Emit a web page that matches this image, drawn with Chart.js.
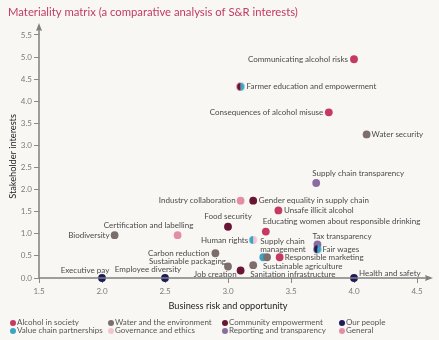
<!DOCTYPE html>
<html><head><meta charset="utf-8">
<script src="https://cdn.jsdelivr.net/npm/chart.js@4/dist/chart.umd.min.js"></script>
<style>
html,body{margin:0;padding:0;background:#f8f7f4;}
#wrap{position:relative;width:439px;height:340px;overflow:hidden;background:#f8f7f4;font-family:Lato,"Open Sans",sans-serif;}
#c{position:absolute;left:0;top:0;}
.lg{position:absolute;font-size:8px;color:#555;white-space:nowrap;line-height:9px;}
.lg i{position:absolute;left:-7px;top:2px;width:6px;height:6px;border-radius:50%;}
</style></head>
<body><div id="wrap"><canvas id="c" width="439" height="318"></canvas><div id="legend"></div></div>
<script>
// ---- data ----
const TITLE = 'Materiality matrix (a comparative analysis of S&R interests)';
const xTitle = 'Business risk and opportunity';
const yTitle = 'Stakeholder interests';
const categories = ['Alcohol in society','Water and the environment','Community empowerment','Our people',
  'Value chain partnerships','Governance and ethics','Reporting and transparency','General'];
const categoryColors = ['#c63a62','#7b6e6b','#6a1533','#1e1b57','#3aa5c5','#f3c5d1','#8b6ca0','#e48ea6'];
const topics = ['Communicating alcohol risks','Farmer education and empowerment','Consequences of alcohol misuse',
  'Water security','Supply chain transparency','Industry collaboration','Gender equality in supply chain',
  'Unsafe illicit alcohol','Food security','Educating women about responsible drinking','Human rights',
  'Certification and labelling','Biodiversity','Carbon reduction','Sustainable packaging','Job creation',
  'Sanitation infrastructure','Supply chain\nmanagement','Sustainable agriculture','Responsible marketing',
  'Tax transparency','Fair wages','Health and safety','Executive pay','Employee diversity'];
const businessRisk = [4.0,3.1,3.8,4.1,3.7,3.1,3.2,3.4,3.0,3.3,3.2,2.6,2.1,2.9,3.0,3.1,3.2,3.28,3.31,3.41,3.71,3.71,4.0,2.0,2.5];
const stakeholderInterest = [4.95,4.33,3.75,3.25,2.15,1.75,1.75,1.53,1.16,1.05,0.86,0.97,0.97,0.56,0.26,0.17,0.29,0.47,0.47,0.47,0.76,0.65,0,0,0];
const primaryCategory = [0,2,0,1,6,7,2,0,2,0,4,7,1,1,1,2,1,4,1,0,6,3,3,3,3];
const secondaryCategory = [null,4,null,null,null,null,null,null,null,null,5,null,null,null,null,null,null,null,null,null,null,4,null,null,null];
const xTicks = [1.5,2.0,2.5,3.0,3.5,4.0,4.5];
const yTicks = [0,0.5,1.0,1.5,2.0,2.5,3.0,3.5,4.0,4.5,5.0,5.5];

// ---- label placement (style) ----
const labelPlace = {
 0:[-6,0,'right'],1:[6,0,'left'],2:[-5.5,0,'right'],3:[5,0,'left'],4:[-4,-10,'left'],5:[-5,0,'right'],
 6:[5.5,0,'left'],7:[5.5,0,'left'],8:[0,-10,'center'],9:[-3,-10,'left'],10:[-5,0,'right'],11:[-29,-10,'center'],
 12:[-5,0,'right'],13:[-6,0,'right'],14:[-2,-5,'right'],15:[-4,3.5,'right'],16:[-3,9.5,'left'],17:[-3,-16,'left'],
 18:[-4,9,'left'],19:[5,0,'left'],20:[-5,-7.5,'left'],21:[5,0,'left'],22:[5,-5,'left'],23:[-17,-8,'center'],24:[-17,-9,'center']
};
const R = 3.9;
function halfDot(color, side){
  const c = document.createElement('canvas');
  const s = Math.ceil(R*2)+2; c.width = s; c.height = s;
  const g = c.getContext('2d');
  g.fillStyle = color; g.beginPath();
  if (side==='left') g.arc(s/2,s/2,R,Math.PI/2,Math.PI*1.5); else g.arc(s/2,s/2,R,-Math.PI/2,Math.PI/2);
  g.closePath(); g.fill();
  return c;
}
const datasets = categories.map((name, ci) => {
  const pts = [], styles = [];
  topics.forEach((t, i) => {
    if (primaryCategory[i] === ci || secondaryCategory[i] === ci) {
      pts.push({x: businessRisk[i], y: stakeholderInterest[i], idx: i});
      if (secondaryCategory[i] === null) styles.push('circle');
      else styles.push(halfDot(categoryColors[ci], primaryCategory[i] === ci ? 'left' : 'right'));
    }
  });
  return {label: name, data: pts, backgroundColor: categoryColors[ci], borderWidth: 0, pointRadius: R,
    pointStyle: styles, clip: false};
});

const FONT = 'Lato, "Open Sans", sans-serif';
const axisPlugin = {
  id: 'axes',
  afterDraw(chart){
    const {ctx, chartArea: a, scales: {x, y}} = chart;
    ctx.save();
    ctx.strokeStyle = '#7f7f7f'; ctx.fillStyle = '#7f7f7f'; ctx.lineWidth = 1.5;
    const y0 = y.getPixelForValue(0), x0 = x.getPixelForValue(1.5);
    ctx.beginPath(); ctx.moveTo(x0, y0); ctx.lineTo(a.right+10, y0); ctx.stroke();
    ctx.beginPath(); ctx.moveTo(a.right+16, y0); ctx.lineTo(a.right+8, y0-3); ctx.lineTo(a.right+9, y0); ctx.lineTo(a.right+8, y0+3); ctx.closePath(); ctx.fill();
    ctx.beginPath(); ctx.moveTo(x0, y0); ctx.lineTo(x0, a.top-6); ctx.stroke();
    ctx.beginPath(); ctx.moveTo(x0, a.top-12); ctx.lineTo(x0-3, a.top-4); ctx.lineTo(x0, a.top-5); ctx.lineTo(x0+3, a.top-4); ctx.closePath(); ctx.fill();
    ctx.restore();
  }
};
const labelPlugin = {
  id: 'pointLabels',
  afterDatasetsDraw(chart){
    const {ctx, scales: {x, y}} = chart;
    ctx.save();
    ctx.font = '8px ' + FONT; ctx.fillStyle = '#4a4a4a'; ctx.textBaseline = 'middle';
    topics.forEach((t, i) => {
      const p = labelPlace[i];
      const px = x.getPixelForValue(businessRisk[i]) + p[0];
      const py = y.getPixelForValue(stakeholderInterest[i]) + p[1];
      ctx.textAlign = p[2];
      t.split('\n').forEach((line, k) => ctx.fillText(line, px, py + k*8.5));
    });
    ctx.restore();
  }
};

new Chart(document.getElementById('c'), {
  type: 'scatter',
  data: {datasets},
  plugins: [axisPlugin, labelPlugin],
  options: {
    responsive: false, animation: false, events: [],
    layout: {padding: {left: 8, right: 22, top: 0, bottom: 0}},
    plugins: {
      legend: {display: false}, tooltip: {enabled: false},
      title: {display: true, text: TITLE, align: 'start', color: '#c23a63',
        font: {family: FONT, size: 11.3, weight: 'normal'}, padding: {top: 5.2, bottom: 16.2}}
    },
    scales: {
      x: {type: 'linear', min: 1.5, max: 4.5,
        afterBuildTicks: s => { s.ticks = xTicks.map(v => ({value: v})); },
        afterFit: s => { s.height = 40; },
        ticks: {callback: v => v.toFixed(1), color: '#7a7a7a', font: {family: FONT, size: 8}, padding: 4, maxRotation: 0},
        grid: {drawOnChartArea: false, tickLength: 5, color: '#8a8a8a', lineWidth: 1},
        border: {display: false},
        title: {display: true, text: xTitle, color: '#222', font: {family: FONT, size: 9.2}, padding: {top: 0, bottom: 6.5}}
      },
      y: {type: 'linear', min: 0, max: 5.5,
        afterBuildTicks: s => { s.ticks = yTicks.map(v => ({value: v})); },
        afterFit: s => { s.width = 31; },
        ticks: {callback: v => v.toFixed(1), color: '#7a7a7a', font: {family: FONT, size: 8}, padding: 2},
        grid: {drawOnChartArea: false, tickLength: 5, color: '#8a8a8a', lineWidth: 1},
        border: {display: false},
        title: {display: true, text: yTitle, color: '#222', font: {family: FONT, size: 9.2, lineHeight: 1}, padding: {top: 0, bottom: 0}}
      }
    }
  }
});

// HTML legend
const legendPos = [[17,317.5],[115,317.5],[229,317.5],[346,317.5],[17,326],[115,326],[229,326],[346,326]];
const lg = document.getElementById('legend');
categories.forEach((name, i) => {
  const d = document.createElement('div');
  d.className = 'lg'; d.style.left = legendPos[i][0] + 'px'; d.style.top = legendPos[i][1] + 'px';
  d.innerHTML = '<i style="background:' + categoryColors[i] + '"></i>' + name;
  lg.appendChild(d);
});
</script></body></html>
